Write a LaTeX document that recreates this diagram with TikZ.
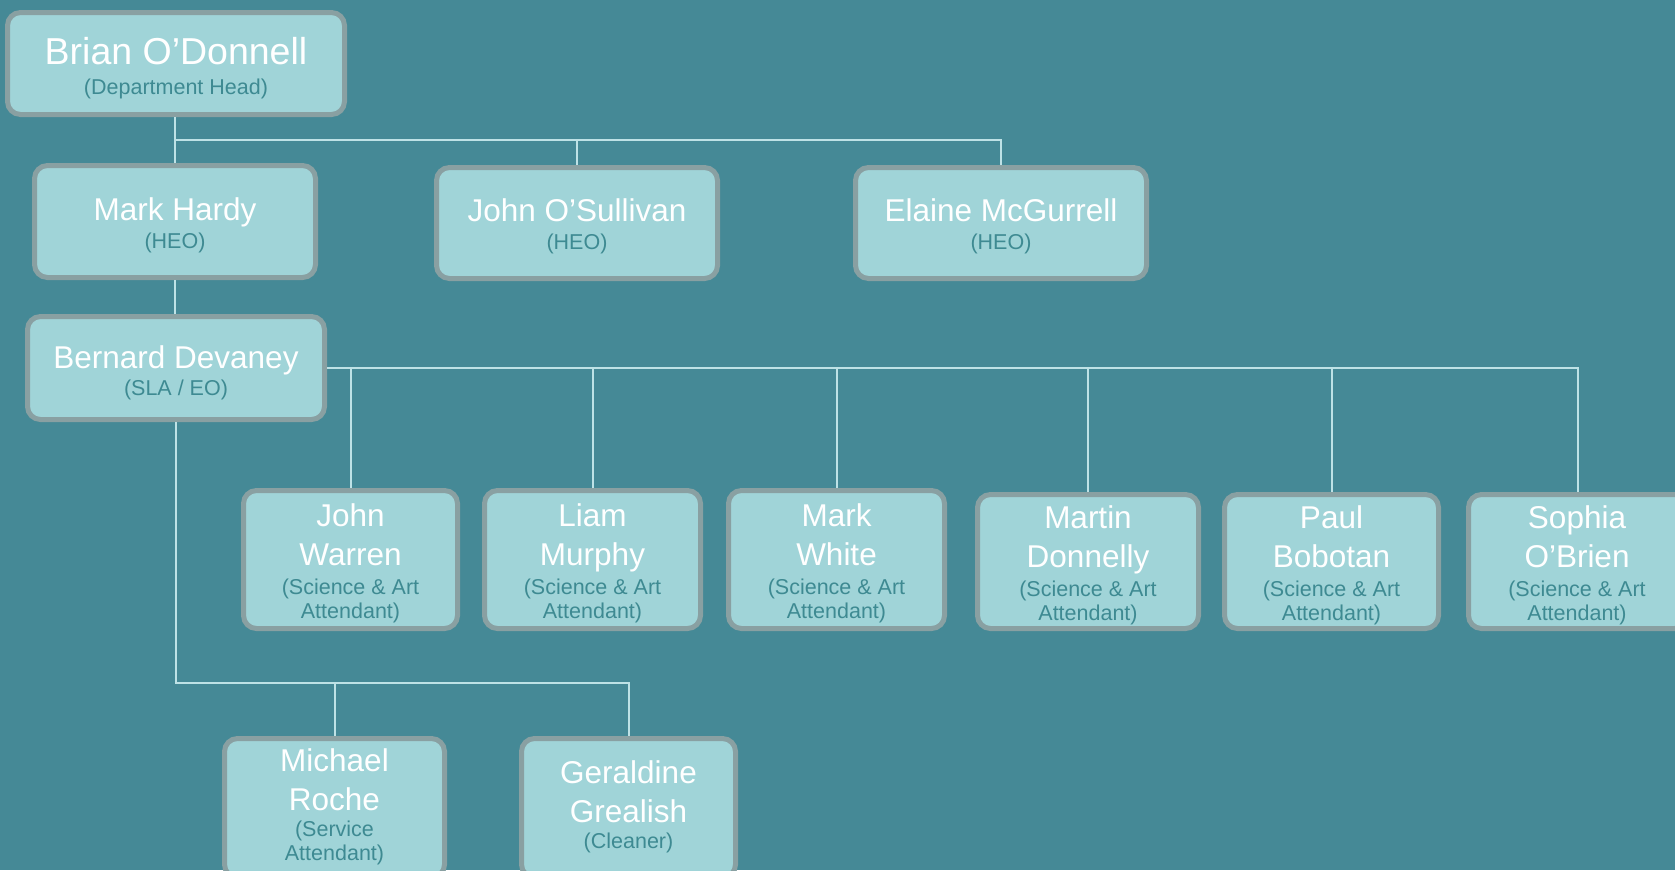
\documentclass[tikz,border=0pt]{standalone}
\usepackage{fontspec}
\setmainfont{Liberation Sans}
\definecolor{bg}{HTML}{458996}
\definecolor{boxfill}{HTML}{A0D4D8}
\definecolor{boxborder}{HTML}{89A0A2}
\definecolor{roletext}{HTML}{3E8A92}
\definecolor{linecol}{HTML}{BEE2E6}
\begin{document}
\begin{tikzpicture}[x=1pt,y=-1pt,
  box/.style={draw=boxborder, line width=5pt, fill=boxfill, rounded corners=13pt, inner sep=0pt, outer sep=2.5pt},
  nm/.style={text=white, font=\fontsize{31.5}{39}\selectfont, align=center, inner sep=0pt, anchor=base},
  bignm/.style={nm, font=\fontsize{37.5}{44}\selectfont},
  rl/.style={text=roletext, font=\fontsize{21.5}{24.5}\selectfont, align=center, inner sep=0pt, anchor=base},
  conn/.style={draw=linecol, line width=2pt}]
\fill[bg] (0,0) rectangle (1675,870);
\useasboundingbox (0,0) rectangle (1675,870);
% boxes
\node[box, minimum width=337pt, minimum height=102pt] (brian) at (176,63.5) {};
\node[box, minimum width=281pt, minimum height=112pt] (mark) at (175,221.5) {};
\node[box, minimum width=281pt, minimum height=111pt] (jos) at (577,223) {};
\node[box, minimum width=291pt, minimum height=111pt] (elaine) at (1001,223) {};
\node[box, minimum width=297pt, minimum height=103pt] (bernard) at (176,368) {};
\node[box, minimum width=214pt, minimum height=138pt] (jw) at (350.5,559.5) {};
\node[box, minimum width=216pt, minimum height=138pt] (liam) at (592.5,559.5) {};
\node[box, minimum width=216pt, minimum height=138pt] (mw) at (836.5,559.5) {};
\node[box, minimum width=221pt, minimum height=134pt] (martin) at (1088,561.5) {};
\node[box, minimum width=214pt, minimum height=134pt] (paul) at (1331.5,561.5) {};
\node[box, minimum width=219pt, minimum height=134pt] (sophia) at (1578,561.5) {};
\node[box, minimum width=220pt, minimum height=139pt] (michael) at (334.5,808) {};
\node[box, minimum width=214pt, minimum height=139pt] (geraldine) at (628.5,808) {};
% connectors
\coordinate (hub1) at (175,140);
\coordinate (hub3) at (176,683);
\draw[conn] (mark.north |- brian.south) -- (mark.north);
\draw[conn] (hub1) -| (elaine.north);
\draw[conn] (jos.north |- hub1) -- (jos.north);
\draw[conn] (mark.south) -- (bernard.north -| mark.south);
\draw[conn] (bernard.east) -| (sophia.north);
\foreach \n in {jw,liam,mw,martin,paul} \draw[conn] (\n.north |- bernard.east) -- (\n.north);
\draw[conn] (bernard.south) -- (hub3) -| (geraldine.north);
\draw[conn] (michael.north |- hub3) -- (michael.north);
% texts (base anchor = baseline of the last line)
\node[bignm] (t-brian) at (176,64) {Brian O’Donnell};
\node[rl] (r-brian) at (176,94) {(Department Head)};
\node[nm] (t-mark) at (175,220) {Mark Hardy};
\node[rl] (r-mark) at (175,248) {(HEO)};
\node[nm] (t-jos) at (577,221) {John O’Sullivan};
\node[rl] (r-jos) at (577,249.5) {(HEO)};
\node[nm] (t-elaine) at (1001,221) {Elaine McGurrell};
\node[rl] (r-elaine) at (1001,249.5) {(HEO)};
\node[nm] (t-bernard) at (176,368) {Bernard Devaney};
\node[rl] (r-bernard) at (176,395) {(SLA / EO)};
\node[nm] (t-jw) at (350.5,565) {John\\Warren};
\node[rl] (r-jw) at (350.5,618.5) {(Science \& Art\\Attendant)};
\node[nm] (t-liam) at (592.5,565) {Liam\\Murphy};
\node[rl] (r-liam) at (592.5,618.5) {(Science \& Art\\Attendant)};
\node[nm] (t-mw) at (836.5,565) {Mark\\White};
\node[rl] (r-mw) at (836.5,618.5) {(Science \& Art\\Attendant)};
\node[nm] (t-martin) at (1088,567) {Martin\\Donnelly};
\node[rl] (r-martin) at (1088,620.5) {(Science \& Art\\Attendant)};
\node[nm] (t-paul) at (1331.5,567) {Paul\\Bobotan};
\node[rl] (r-paul) at (1331.5,620.5) {(Science \& Art\\Attendant)};
\node[nm] (t-sophia) at (1577,567) {Sophia\\O’Brien};
\node[rl] (r-sophia) at (1577,620.5) {(Science \& Art\\Attendant)};
\node[nm] (t-michael) at (334.5,810) {Michael\\Roche};
\node[rl] (r-michael) at (334.5,860.5) {(Service\\Attendant)};
\node[nm] (t-geraldine) at (628.5,822) {Geraldine\\Grealish};
\node[rl] (r-geraldine) at (628.5,848) {(Cleaner)};
\end{tikzpicture}
\end{document}
